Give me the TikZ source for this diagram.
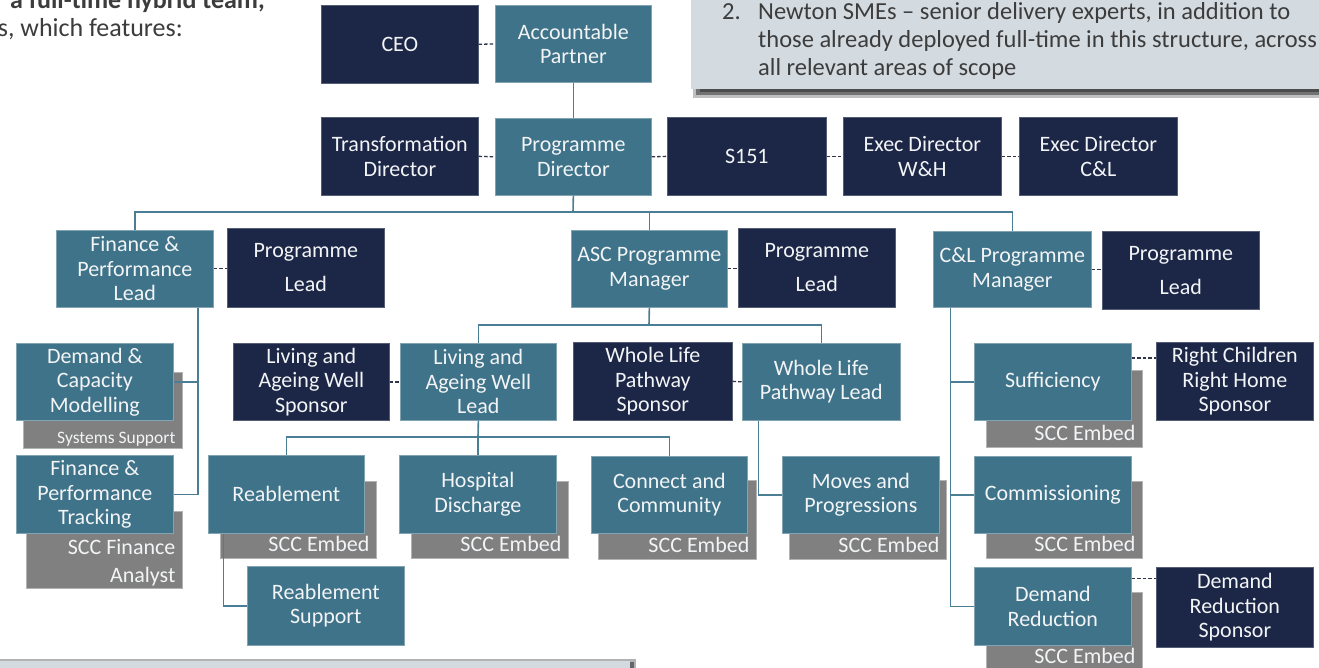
\documentclass[tikz,border=0pt]{standalone}
\usepackage{fontspec}
\setmainfont{Carlito}
\definecolor{navyc}{HTML}{1C2747}
\definecolor{tealc}{HTML}{3F7389}
\definecolor{grayc}{HTML}{808080}
\definecolor{linec}{HTML}{4A7E94}
\definecolor{dashc}{HTML}{2E3648}
\definecolor{boxtext}{HTML}{F2F4F6}
\definecolor{panelc}{HTML}{D3DAE0}
\definecolor{ptext}{HTML}{3C3C3C}
\newcommand\boxfont{\fontsize{22}{24.5}\selectfont}
\newcommand\mkbox[7]{\node[#1, minimum width=#5pt-#3pt, minimum height=#6pt-#4pt] (#2) at (#3,#4) {#7};}
\newcommand\mkgray[6]{\node[gbx, minimum width=#4pt-#2pt, minimum height=#5pt-#3pt] (#1) at (#2,#3) {};
  \node[gtxt] (#1t) at ([xshift=-7pt,yshift=7pt]#1.south east) {#6};}
\begin{document}
\begin{tikzpicture}[x=1pt,y=-1pt,
  bx/.style={inner sep=1pt, align=center, text=boxtext, font=\boxfont, anchor=north west, line width=0.7pt},
  nb/.style={bx, fill=navyc, draw=navyc!75!white},
  tb/.style={bx, fill=tealc, draw=tealc!65!white},
  plead/.style={nb, font=\fontsize{22}{34}\selectfont},
  gbx/.style={fill=grayc, draw=grayc!60!white, line width=0.6pt, anchor=north west, inner sep=0pt},
  gtxt/.style={text=boxtext, font=\boxfont, anchor=base east, inner sep=0pt, align=right},
  conn/.style={draw=linec, line width=1.6pt},
  dconn/.style={draw=dashc, line width=1.3pt, dash pattern=on 3.5pt off 2pt},
  ptxt/.style={text=ptext, font=\fontsize{24.5}{28}\selectfont, inner sep=0pt, align=left},
  ltxt/.style={text=ptext, font=\fontsize{26}{29}\selectfont, inner sep=0pt, align=left}
]
\useasboundingbox (0,0) rectangle (1319,668);
\clip (0,0) rectangle (1319,668);
\fill[white] (0,0) rectangle (1319,668);

% top-left text
\node[ltxt, anchor=base east] (tl1) at (265,9) {\textbf{a full-time hybrid team,}};
\node[ltxt, anchor=base east] (tl2) at (183,37) {s, which features:};

% top-right panel
\fill[black!25] (693,-10) rectangle (1330,98);
\fill[black!55] (696,-10) rectangle (1330,95);
\fill[black!70] (700,-10) rectangle (1330,92);
\fill[panelc] (691,-10) rectangle (1330,89);
\node[ptxt, anchor=base west] (pn) at (722,20) {2.};
\node[ptxt, anchor=base west] (pt) at (758,76) {Newton SMEs -- senior delivery experts, in addition to\\those already deployed full-time in this structure, across\\all relevant areas of scope};

% bottom-left panel
\fill[black!30] (0,659) rectangle (636,680);
\fill[black!60] (0,662) rectangle (634,680);
\fill[panelc] (-10,661) rectangle (630,680);

% gray embed boxes
\mkgray{gdcm}{23}{372}{182}{448}{}
\node[gtxt, font=\fontsize{17.5}{20}\selectfont] (gdcmt) at ([xshift=-7pt,yshift=5pt]gdcm.south east) {Systems Support};
\node[gbx, minimum width=156pt, minimum height=77pt] (gfpt) at (26,511) {};
\node[gtxt, anchor=south east, font=\fontsize{22}{28}\selectfont] (gfptt) at ([xshift=-7pt,yshift=2.5pt]gfpt.south east) {SCC Finance\\Analyst};
\mkgray{greab}{220}{481}{376}{558}{SCC Embed}
\mkgray{ghosp}{411}{481}{568}{558}{SCC Embed}
\mkgray{gcc}{598}{480}{756}{559}{SCC Embed}
\mkgray{gmp}{789}{480}{946}{559}{SCC Embed}
\mkgray{gsuff}{986}{370}{1142}{447}{SCC Embed}
\mkgray{gcomm}{986}{481}{1142}{558}{SCC Embed}
\mkgray{gdr}{986}{592}{1142}{670}{SCC Embed}

% boxes
\mkbox{nb}{ceo}{321}{5}{478}{83}{CEO}
\mkbox{tb}{ap}{495}{5}{651}{82}{Accountable\\Partner}
\mkbox{nb}{td}{321}{117}{478}{195}{Transformation\\Director}
\mkbox{tb}{pd}{495}{118}{651}{195}{Programme\\Director}
\mkbox{nb}{s151}{667}{117}{826}{195}{S151}
\mkbox{nb}{ewh}{843}{117}{1001}{195}{Exec Director\\W\&H}
\mkbox{nb}{ecl}{1019}{117}{1177}{195}{Exec Director\\C\&L}

\mkbox{tb}{fpl}{56}{230}{213}{307}{Finance \&\\Performance\\Lead}
\mkbox{plead}{pla}{227}{228}{384}{307}{Programme\\Lead}
\mkbox{tb}{ascm}{571}{230}{727}{307}{ASC Programme\\Manager}
\mkbox{plead}{plb}{738}{228}{895}{307}{Programme\\Lead}
\mkbox{tb}{clm}{933}{231}{1091}{307}{C\&L Programme\\Manager}
\mkbox{plead}{plc}{1102}{231}{1259}{309}{Programme\\Lead}

\mkbox{tb}{dcm}{16}{343}{173}{420}{Demand \&\\Capacity\\Modelling}
\mkbox{tb}{fpt}{16}{455}{173}{533}{Finance \&\\Performance\\Tracking}
\mkbox{nb}{laws}{233}{343}{389}{420}{Living and\\Ageing Well\\Sponsor}
\mkbox{tb}{lawl}{400}{343}{556}{420}{Living and\\Ageing Well\\Lead}
\mkbox{nb}{wlps}{573}{342}{732}{420}{Whole Life\\Pathway\\Sponsor}
\mkbox{tb}{wlpl}{742}{343}{900}{420}{Whole Life\\Pathway Lead}

\mkbox{tb}{reab}{208}{455}{364}{533}{Reablement}
\mkbox{tb}{hosp}{399}{455}{556}{533}{Hospital\\Discharge}
\mkbox{tb}{cc}{591}{456}{747}{533}{Connect and\\Community}
\mkbox{tb}{mp}{782}{456}{939}{533}{Moves and\\Progressions}
\mkbox{tb}{rs}{247}{566}{404}{645}{Reablement\\Support}

\mkbox{tb}{suff}{974}{343}{1131}{420}{Sufficiency}
\mkbox{nb}{rcrh}{1156}{342}{1313}{420}{Right Children\\Right Home\\Sponsor}
\mkbox{tb}{comm}{974}{456}{1131}{533}{Commissioning}
\mkbox{tb}{dr}{974}{567}{1131}{645}{Demand\\Reduction}
\mkbox{nb}{drs}{1156}{567}{1313}{647}{Demand\\Reduction\\Sponsor}

% dashed links
\draw[dconn] (ceo.east) -- (ap.west);
\draw[dconn] (td.east) -- (pd.west);
\draw[dconn] (pd.east) -- (s151.west);
\draw[dconn] (s151.east) -- (ewh.west);
\draw[dconn] (ewh.east) -- (ecl.west);
\draw[dconn] (fpl.east) -- (fpl.east -| pla.west);
\draw[dconn] (ascm.east) -- (ascm.east -| plb.west);
\draw[dconn] (clm.east) -- (clm.east -| plc.west);
\draw[dconn] (laws.east) -- (lawl.west);
\draw[dconn] (wlps.east) -- (wlpl.west);
\draw[dconn] ([yshift=24pt]suff.east) -- ([yshift=24pt]suff.east -| rcrh.west);
\draw[dconn] ([yshift=28pt]dr.east) -- ([yshift=28pt]dr.east -| drs.west);

% solid connectors
\draw[conn] (ap.south) -- (pd.north);
\coordinate (bus1) at (573,212);
\draw[conn] (pd.south) -- (bus1);
\draw[conn] (bus1) -| (fpl.north);
\draw[conn] (bus1) -| (ascm.north);
\draw[conn] (bus1) -| (clm.north);

\draw[conn] ([xshift=63pt]fpl.south) |- (dcm.east);
\draw[conn] ([xshift=63pt]fpl.south) |- (fpt.east);

\coordinate (bus2) at (649,325);
\draw[conn] (ascm.south) -- (bus2);
\draw[conn] (bus2) -| (lawl.north);
\draw[conn] (bus2) -| (wlpl.north);

\coordinate (bus3) at (478,437);
\draw[conn] (lawl.south) -- (bus3);
\draw[conn] (bus3) -| (reab.north);
\draw[conn] (bus3) -| (hosp.north);
\draw[conn] (bus3) -| (cc.north);

\draw[conn] ([xshift=-63pt]reab.south) |- (rs.west);
\draw[conn] ([xshift=-63pt]wlpl.south) |- (mp.west);

\draw[conn] ([xshift=-62pt]clm.south) |- (suff.west);
\draw[conn] ([xshift=-62pt]clm.south) |- (comm.west);
\draw[conn] ([xshift=-62pt]clm.south) |- (dr.west);
\end{tikzpicture}
\end{document}
